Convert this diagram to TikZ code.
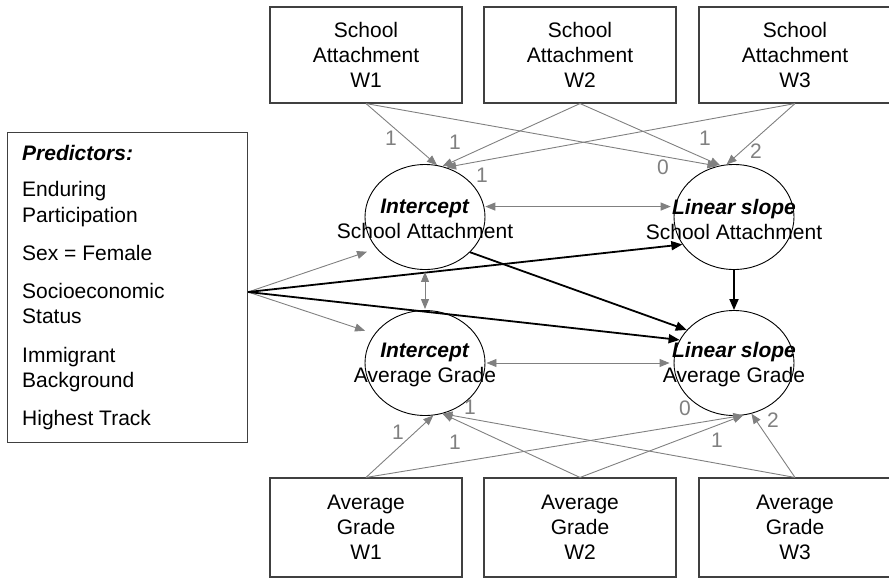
\documentclass[tikz,border=0pt]{standalone}
\usepackage{fontspec}
\setmainfont{Liberation Sans}
\usetikzlibrary{arrows.meta,shapes.geometric}
\definecolor{garr}{RGB}{128,128,128}
\definecolor{bord}{RGB}{64,64,64}
\begin{document}
\begin{tikzpicture}[x=1pt,y=-1pt,
  txt/.style={font=\fontsize{21}{25}\selectfont, inner sep=0pt, align=center},
  box/.style={draw=bord, line width=1.1pt, minimum width=192pt, inner sep=0pt, font=\fontsize{21}{25}\selectfont, align=center},
  ell/.style={draw=black, ellipse, line width=0.9pt, minimum width=120pt, minimum height=105pt, inner sep=0pt},
  garrow/.style={draw=garr, line width=0.9pt, -{Triangle[length=10pt,width=8pt]}},
  gdouble/.style={draw=garr, line width=0.9pt, {Triangle[length=10pt,width=8pt]}-{Triangle[length=10pt,width=8pt]}},
  barrow/.style={draw=black, line width=1.8pt, -{Triangle[length=11pt,width=9pt]}},
  lab/.style={text=garr, font=\fontsize{21}{25}\selectfont, inner sep=0pt},
  plab/.style={anchor=base west, inner sep=0pt, font=\fontsize{21}{25}\selectfont}
]
\useasboundingbox (0,0) rectangle (889,579);
% observed boxes
\node[box, minimum height=96pt] (sa1) at (366,55) {School\\Attachment\\W1};
\node[box, minimum height=96pt] (sa2) at (580,55) {School\\Attachment\\W2};
\node[box, minimum height=96pt] (sa3) at (795,55) {School\\Attachment\\W3};
\node[box, minimum height=99pt] (ag1) at (366,527.5) {Average\\Grade\\W1};
\node[box, minimum height=99pt] (ag2) at (580,527.5) {Average\\Grade\\W2};
\node[box, minimum height=99pt] (ag3) at (795,527.5) {Average\\Grade\\W3};
% latent ellipses
\node[ell] (isa) at (425,217) {};
\node[ell] (ssa) at (734,217) {};
\node[ell] (iag) at (425,363) {};
\node[ell] (sag) at (734,363) {};
\node[txt] (tisa) at (425,219) {\textbf{\textit{Intercept}}\\School Attachment};
\node[txt] (tssa) at (734,219) {\textbf{\textit{Linear slope}}\\School Attachment};
\node[txt] (tiag) at (425,365) {\textbf{\textit{Intercept}}\\Average Grade};
\node[txt] (tsag) at (734,365) {\textbf{\textit{Linear slope}}\\Average Grade};
% predictors
\node[draw=bord, line width=1.1pt, minimum width=240pt, minimum height=310pt, anchor=north west, inner sep=0pt] (pred) at (7,132) {};
\node[plab] (p0) at (22,160) {\textbf{\textit{Predictors:}}};
\node[plab] (p1) at (22,196) {Enduring};
\node[plab] (p2) at (22,222) {Participation};
\node[plab] (p3) at (22,260) {Sex = Female};
\node[plab] (p4) at (22,298) {Socioeconomic};
\node[plab] (p5) at (22,323) {Status};
\node[plab] (p6) at (22,362) {Immigrant};
\node[plab] (p7) at (22,387) {Background};
\node[plab] (p8) at (22,425) {Highest Track};
\coordinate (ps) at (248,292);
% predictor paths
\draw[garrow, shorten >=10pt] (ps) -- (isa.213);
\draw[garrow, shorten >=10pt] (ps) -- (iag.150);
\draw[barrow] (ps) -- (ssa.208);
\draw[barrow] (ps) -- (sag.157);
\draw[barrow] (isa.-38) -- (sag.145);
\draw[barrow] (ssa.south) -- (sag.north);
% covariances
\draw[gdouble, shorten <=1pt, shorten >=4pt] (isa.10) -- (ssa.170);
\draw[gdouble, shorten <=1pt, shorten >=4pt] (iag.east) -- (sag.west);
\draw[gdouble, shorten <=2pt, shorten >=1pt] (isa.south) -- (iag.north);
% loadings top
\draw[garrow] (sa1.south) -- (isa.77);
\draw[garrow] (sa2.south) -- (isa.71);
\draw[garrow] (sa3.south) -- (isa.67);
\draw[garrow] (sa1.south) -- (ssa.108);
\draw[garrow] (sa2.south) -- (ssa.105);
\draw[garrow] (sa3.south) -- (ssa.98);
% loadings bottom
\draw[garrow] (ag1.north) -- (iag.-81);
\draw[garrow] (ag2.north) -- (iag.-71);
\draw[garrow] (ag3.north) -- (iag.-71);
\draw[garrow] (ag1.north) -- (sag.-80);
\draw[garrow] (ag2.north) -- (sag.-80);
\draw[garrow] (ag3.north) -- (sag.-71);
% labels top
\node[lab] (l1) at (391,138) {1};
\node[lab] (l2) at (455,142) {1};
\node[lab] (l3) at (482,175) {1};
\node[lab] (l4) at (663,167) {0};
\node[lab] (l5) at (705,138) {1};
\node[lab] (l6) at (756,151) {2};
% labels bottom
\node[lab] (l7) at (470,407) {1};
\node[lab] (l8) at (398,432) {1};
\node[lab] (l9) at (455,442) {1};
\node[lab] (l10) at (685,408) {0};
\node[lab] (l11) at (717,440) {1};
\node[lab] (l12) at (773,420) {2};
\end{tikzpicture}
\end{document}
